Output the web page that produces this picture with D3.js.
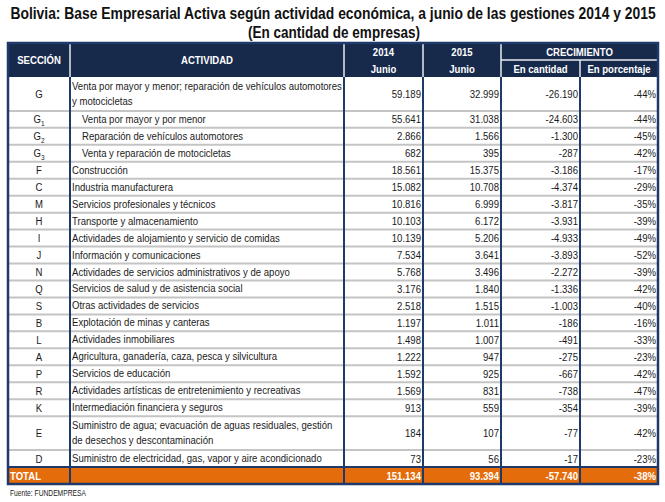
<!DOCTYPE html>
<html><head><meta charset="utf-8">
<script src="https://cdn.jsdelivr.net/npm/d3@7"></script>
<style>body{margin:0;background:#fff}</style>
</head><body><svg id="c" width="665" height="502"></svg>
<script>
const title1 = "Bolivia: Base Empresarial Activa según actividad económica, a junio de las gestiones 2014 y 2015";
const title2 = "(En cantidad de empresas)";
const source = "Fuente: FUNDEMPRESA";
const sections = ["G","G1","G2","G3","F","C","M","H","I","J","N","Q","S","B","L","A","P","R","K","E","D"];
const activities = [
  "Venta por mayor y menor; reparación de vehículos automotores\ny motocicletas",
  "Venta por mayor y por menor",
  "Reparación de vehículos automotores",
  "Venta y reparación de motocicletas",
  "Construcción",
  "Industria manufacturera",
  "Servicios profesionales y técnicos",
  "Transporte y almacenamiento",
  "Actividades de alojamiento y servicio de comidas",
  "Información y comunicaciones",
  "Actividades de servicios administrativos y de apoyo",
  "Servicios de salud y de asistencia social",
  "Otras actividades de servicios",
  "Explotación de minas y canteras",
  "Actividades inmobiliares",
  "Agricultura, ganadería, caza, pesca y silvicultura",
  "Servicios de educación",
  "Actividades artísticas de entretenimiento y recreativas",
  "Intermediación financiera y seguros",
  "Suministro de agua; evacuación de aguas residuales, gestión\nde desechos y descontaminación",
  "Suministro de electricidad, gas, vapor y aire acondicionado"
];
const v2014 = [59189,55641,2866,682,18561,15082,10816,10103,10139,7534,5768,3176,2518,1197,1498,1222,1592,1569,913,184,73];
const v2015 = [32999,31038,1566,395,15375,10708,6999,6172,5206,3641,3496,1840,1515,1011,1007,947,925,831,559,107,56];
const cantidad = [-26190,-24603,-1300,-287,-3186,-4374,-3817,-3931,-4933,-3893,-2272,-1336,-1003,-186,-491,-275,-667,-738,-354,-77,-17];
const porcentaje = [-44,-44,-45,-42,-17,-29,-35,-39,-49,-52,-39,-42,-40,-16,-33,-23,-42,-47,-39,-42,-23];
const totalLabel = "TOTAL";
const total = [151134, 93394, -57740, -38];
const headYear = ["2014","2015"];

const FONT = "'Liberation Sans',Arial,sans-serif";
const NAVY = "#172a4c", LINE = "#1f3a6a", ORANGE = "#e46c0a", GRAY = "#c4c4c4", INK = "#1a1a1a";
const SX = 0.87;

const loc = d3.formatLocale({decimal:",", thousands:".", grouping:[3], currency:["",""], minus:"-"});
const fmt = loc.format(",d");
const pfmt = v => fmt(v) + "%";

const svg = d3.select("#c");
const colEdges = [8,70,344,423,501,580,658];
const x = i => colEdges[i];

// narrow-text helper: horizontal compression via transform
function txt(parent, px, py, str, o={}){
  const t = parent.append("text")
    .attr("transform",`translate(${px},${py}) scale(${o.sx||SX},1)`)
    .attr("text-anchor",o.anchor||"start")
    .attr("font-family",FONT).attr("font-size",o.size||11)
    .attr("font-weight",o.bold?"bold":"normal").attr("fill",o.fill||INK);
  if(str!==null) t.text(str);
  return t;
}
function fitTxt(parent, px, py, str, width, o){
  const t = txt(parent, px, py, str, Object.assign({}, o, {sx:1}));
  const w = t.node().getComputedTextLength();
  t.attr("transform",`translate(${px},${py}) scale(${width/w},1)`);
  return t;
}

const rows = sections.map((s,i)=>({sec:s, lines:activities[i].split("\n"),
  vals:[fmt(v2014[i]), fmt(v2015[i]), fmt(cantidad[i]), pfmt(porcentaje[i])]}));
let cum = 0;
rows.forEach(r=>{ r.u0 = cum; cum += r.lines.length; r.u1 = cum; });
const y = d3.scaleLinear().domain([0, cum]).range([77, 467]);
const headTop = 43, headMid = 60, headBot = 77, totTop = 467, totBot = 484;

// titles
fitTxt(svg, 333, 19, title1, 646, {anchor:"middle", bold:true, size:17, fill:"#111"});
fitTxt(svg, 334, 38, title2, 172, {anchor:"middle", bold:true, size:17, fill:"#111"});

// header
svg.append("rect").attr("x",x(0)).attr("y",headTop).attr("width",x(6)-x(0)).attr("height",headBot-headTop).attr("fill",NAVY);
const hl = svg.append("g").attr("stroke","#e8ecf2").attr("stroke-width",1.5);
[1,2,3,4].forEach(i=>hl.append("line").attr("x1",x(i)).attr("x2",x(i)).attr("y1",headTop).attr("y2",headBot));
hl.append("line").attr("x1",x(5)).attr("x2",x(5)).attr("y1",headMid).attr("y2",headBot);
hl.append("line").attr("x1",x(4)).attr("x2",x(6)).attr("y1",headMid).attr("y2",headMid);
const hopt = {anchor:"middle", bold:true, size:11, fill:"#fff"};
txt(svg,(x(0)+x(1))/2,64,"SECCIÓN",hopt);
txt(svg,(x(1)+x(2))/2,64,"ACTIVIDAD",hopt);
txt(svg,(x(2)+x(3))/2,56,headYear[0],hopt); txt(svg,(x(2)+x(3))/2,73,"Junio",hopt);
txt(svg,(x(3)+x(4))/2,56,headYear[1],hopt); txt(svg,(x(3)+x(4))/2,73,"Junio",hopt);
txt(svg,(x(4)+x(6))/2,56,"CRECIMIENTO",hopt);
txt(svg,(x(4)+x(5))/2,73,"En cantidad",hopt);
txt(svg,(x(5)+x(6))/2,73,"En porcentaje",hopt);

// body row separators
const body = svg.append("g");
body.selectAll("line.sep").data(rows.slice(0,-1)).join("line").attr("class","sep")
  .attr("x1",x(0)).attr("x2",x(6)).attr("y1",d=>y(d.u1)).attr("y2",d=>y(d.u1))
  .attr("stroke",GRAY).attr("stroke-width",2);

rows.forEach(d=>{
  const cy = (y(d.u0)+y(d.u1))/2;
  // section
  const m = d.sec.match(/^([A-Z])(\d*)$/);
  const st = txt(body,(x(0)+x(1))/2,cy+4,null,{anchor:"middle"});
  st.append("tspan").text(m[1]);
  if(m[2]) st.append("tspan").attr("font-size",7.5).attr("dy",2.5).text(m[2]);
  // activity
  const indent = m[2] ? 10 : 0;
  const n = d.lines.length;
  d.lines.forEach((ln,k)=>{
    txt(body, x(1)+2+indent, cy+3.5+(k-(n-1)/2)*14.5, ln);
  });
  // values
  d.vals.forEach((v,c)=>txt(body, x(c+3)-2, cy+4, v, {anchor:"end"}));
});

// total row
svg.append("rect").attr("x",x(0)).attr("y",totTop).attr("width",x(6)-x(0)).attr("height",totBot-totTop).attr("fill",ORANGE);
const topt = {bold:true, fill:"#fff"};
txt(svg, x(0)+2, totTop+12.5, totalLabel, topt);
[fmt(total[0]),fmt(total[1]),fmt(total[2]),pfmt(total[3])].forEach((s,c)=>
  txt(svg, x(c+3)-2, totTop+12.5, s, Object.assign({anchor:"end"}, topt)));

// vertical navy lines (body + total)
const vl = svg.append("g").attr("stroke",LINE).attr("stroke-width",2);
[1,2,3,4,5].forEach(i=>vl.append("line").attr("x1",x(i)).attr("x2",x(i)).attr("y1",headBot).attr("y2",totBot));
vl.append("line").attr("x1",x(0)).attr("x2",x(6)).attr("y1",totTop).attr("y2",totTop);
// outer border
svg.append("rect").attr("x",x(0)).attr("y",headTop).attr("width",x(6)-x(0)).attr("height",totBot-headTop)
  .attr("fill","none").attr("stroke",LINE).attr("stroke-width",2.5);

fitTxt(svg, 10, 496, source, 76, {size:8.5, fill:"#222"});
</script></body></html>
